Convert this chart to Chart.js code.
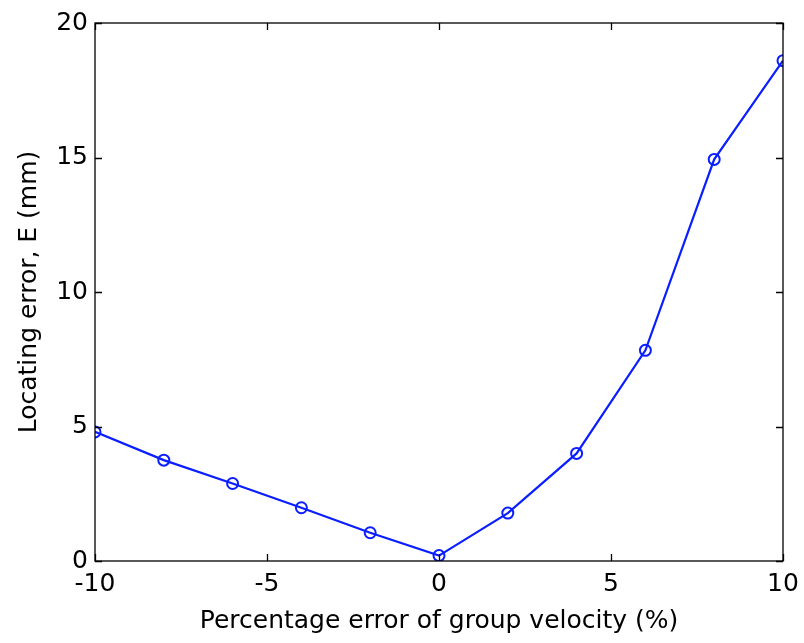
<!DOCTYPE html>
<html><head><meta charset="utf-8">
<script src="https://cdn.jsdelivr.net/npm/chart.js@4/dist/chart.umd.min.js"></script>
<style>html,body{margin:0;padding:0;background:#fff}#wrap{width:804px;height:643px}</style>
</head><body><div id="wrap"><canvas id="c" width="804" height="643"></canvas></div>
<script>
const xValues = [-10, -8, -6, -4, -2, 0, 2, 4, 6, 8, 10];
const errorValues = [4.8, 3.75, 2.88, 1.98, 1.05, 0.2, 1.78, 4.0, 7.83, 14.93, 18.6];
const xTicks = [-10, -5, 0, 5, 10];
const yTicks = [0, 5, 10, 15, 20];
const xTitle = 'Percentage error of group velocity (%)';
const yTitle = 'Locating error, E (mm)';

const boxPlugin = {
  id: 'box',
  afterDatasetsDraw(chart) {
    const {ctx, chartArea: a, scales} = chart;
    ctx.save();
    ctx.strokeStyle = '#000';
    ctx.lineWidth = 1.3;
    ctx.strokeRect(a.left, a.top, a.right - a.left, a.bottom - a.top);
    const L = 7;
    ctx.beginPath();
    xTicks.forEach(v => {
      const p = Math.round(scales.x.getPixelForValue(v)) + 0.5;
      ctx.moveTo(p, a.bottom); ctx.lineTo(p, a.bottom - L);
      ctx.moveTo(p, a.top); ctx.lineTo(p, a.top + L);
    });
    yTicks.forEach(v => {
      const p = Math.round(scales.y.getPixelForValue(v)) + 0.5;
      ctx.moveTo(a.left, p); ctx.lineTo(a.left + L, p);
      ctx.moveTo(a.right, p); ctx.lineTo(a.right - L, p);
    });
    ctx.stroke();
    ctx.restore();
  }
};

const font = {family: 'DejaVu Sans', size: 25};

new Chart(document.getElementById('c'), {
  type: 'line',
  data: {
    datasets: [{
      data: xValues.map((x, i) => ({x, y: errorValues[i]})),
      borderColor: '#0a1eff',
      borderWidth: 2.2,
      pointStyle: 'circle',
      pointRadius: 5.5,
      pointBorderWidth: 2,
      pointBorderColor: '#0a1eff',
      pointBackgroundColor: 'rgba(0,0,0,0)',
      tension: 0
    }]
  },
  options: {
    responsive: false,
    animation: false,
    layout: {padding: {left: 0, top: 23, right: 21, bottom: 0}},
    plugins: {legend: {display: false}, tooltip: {enabled: false}},
    scales: {
      x: {
        type: 'linear', min: -10, max: 10,
        afterBuildTicks: s => { s.ticks = xTicks.map(v => ({value: v})); },
        afterFit: s => { s.height = 82; s.paddingRight = 0; s.paddingLeft = 0; },
        grid: {display: false, drawTicks: false},
        border: {display: false},
        ticks: {color: '#000', padding: 8, font, maxRotation: 0},
        title: {display: true, text: xTitle, color: '#000', font, padding: {top: 4, bottom: 7}}
      },
      y: {
        type: 'linear', min: 0, max: 20,
        afterBuildTicks: s => { s.ticks = yTicks.map(v => ({value: v})); },
        afterFit: s => { s.width = 95; s.paddingTop = 0; s.paddingBottom = 0; },
        grid: {display: false, drawTicks: false},
        border: {display: false},
        ticks: {color: '#000', padding: 7, font},
        title: {display: true, text: yTitle, color: '#000', font, padding: {top: 14, bottom: 4}}
      }
    }
  },
  plugins: [boxPlugin]
});
</script></body></html>
